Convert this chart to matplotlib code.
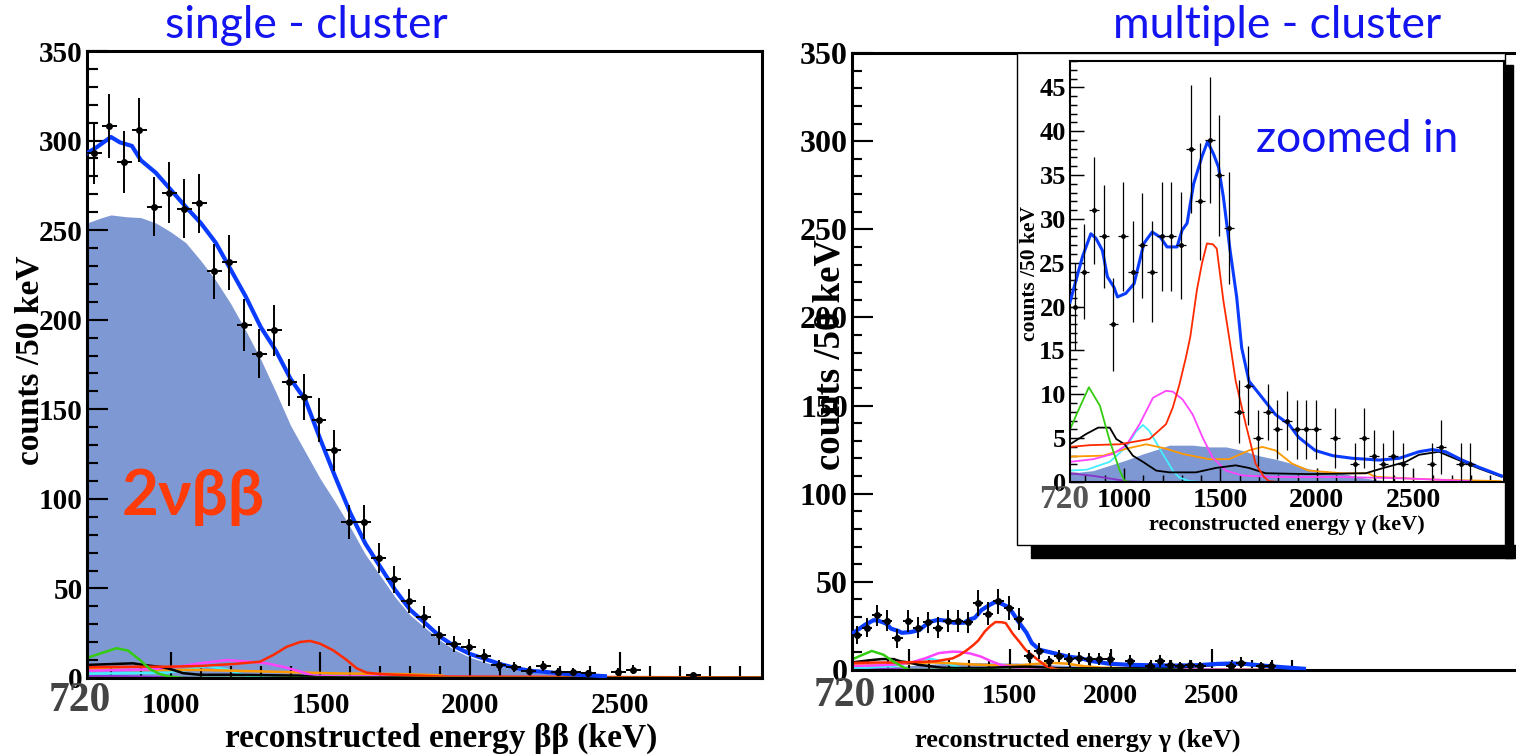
import numpy as np
import matplotlib
matplotlib.use('Agg')
import matplotlib.pyplot as plt
from matplotlib.patches import Rectangle
from matplotlib.ticker import MultipleLocator, FixedLocator

W, H = 1516, 756
plt.rcParams['font.family'] = ['Liberation Serif', 'DejaVu Serif']
plt.rcParams['font.weight'] = 'bold'

# ---- data: 50 keV bins, centres ----
bin_centres = list(range(745, 2946, 50))

single_counts = [293, 308, 288, 306, 263, 271, 262, 265, 227, 232, 197, 181, 194, 165, 157,
                 144, 127, 87, 87, 67, 55, 43, 34, 24, 19, 17.5, 12.3, 7, 6, 4,
                 6.7, 3.4, 3.4, 2.6, 0, 3.4, 4.7, 0, 0, 0, 1.5, 0, 0, 0, 0]
single_err = [17.5, 18, 17.3, 17.8, 16.5, 16.8, 16.4, 16.5, 15.3, 15.5, 14.3, 13.7, 14.2, 13.1, 12.8,
              12.3, 11.6, 9.6, 9.6, 8.5, 7.6, 6.8, 6.0, 5.3, 4.7, 4.5, 3.8, 3.0, 2.7, 2.3,
              2.9, 2.1, 2.1, 1.8, 0, 2.1, 2.5, 0, 0, 0, 1.4, 0, 0, 0, 0]

multi_counts = [20, 24, 31, 28, 18, 28, 24, 27, 24, 28, 28, 27, 38, 32, 39,
                35, 29, 8, 11, 5, 8, 6, 7, 6, 6, 6, 0, 5, 0, 2,
                5, 3, 2, 3, 2, 0, 0, 2, 4, 0, 2, 2, 0, 0, 0]
multi_err = [5.0, 5.4, 6.1, 5.9, 5.3, 6.2, 5.8, 6.0, 5.8, 6.2, 6.2, 6.1, 7.3, 6.7, 7.2,
             6.9, 6.4, 3.6, 4.5, 3.2, 3.2, 3.4, 3.4, 3.4, 3.4, 3.4, 0, 3.4, 0, 2.4,
             3.4, 2.9, 2.4, 2.9, 2.4, 0, 0, 2.4, 3.1, 0, 2.4, 2.4, 0, 0, 0]

# single-cluster fit components (energy knots, counts)
s_fill_e = [720, 770, 800, 850, 900, 950, 1000, 1050, 1100, 1150, 1200, 1250, 1300, 1350, 1400,
            1450, 1500, 1550, 1600, 1650, 1700, 1750, 1800, 1850, 1900, 1950, 2000, 2050, 2100,
            2150, 2200, 2250, 2300, 2350, 2400, 2450]
s_fill_v = [254, 257, 258.5, 257.5, 257, 254, 249, 243, 233, 222, 209, 194, 178, 160, 141,
            126, 111, 98, 84, 69, 57, 45, 35, 28, 21, 15.5, 11.5, 8.8, 6.5,
            4.6, 3.2, 2.6, 1.9, 1.2, 0.6, 0]
s_total_e = [720, 750, 800, 830, 870, 900, 950, 1000, 1050, 1100, 1150, 1200, 1250, 1300, 1350,
             1400, 1450, 1500, 1550, 1600, 1650, 1700, 1750, 1800, 1850, 1900, 1950, 2000, 2050,
             2100, 2150, 2200, 2250, 2300, 2350, 2400, 2450]
s_total_v = [293, 296, 302, 299, 297, 289, 282, 272.5, 263, 254, 243, 228, 213, 196, 183,
             167, 155, 133, 112, 92, 75, 62, 49, 38, 30.6, 23, 17.5, 13.4, 10.6,
             7.8, 5.6, 4, 3.4, 2.6, 1.9, 1.5, 1.0]
s_green_e = [720, 770, 819, 857, 897, 930, 963, 997, 1050, 2975]
s_green_v = [11.2, 14, 16.6, 15.3, 10, 5, 2.2, 0.7, 0, 0]
s_black_e = [720, 874, 908, 974, 1008, 1041, 1097, 1208, 1430, 1487, 1600, 2975]
s_black_v = [7.3, 8.2, 7.3, 6, 4.5, 2.7, 1.8, 1.8, 1.3, 0.5, 0.3, 0.3]
s_red_e = [720, 874, 986, 1097, 1208, 1298, 1342, 1387, 1432, 1465, 1498, 1542, 1588, 1621,
           1654, 1699, 1765, 1900, 2975]
s_red_v = [6, 6.3, 6.3, 6.7, 7.8, 9.1, 12.8, 17.4, 20.1, 20.7, 19.2, 15.5, 10, 5.4,
           3.0, 2.2, 1.7, 0.8, 0.3]
s_magenta_e = [720, 930, 1041, 1097, 1187, 1263, 1319, 1374, 1432, 1475, 1542, 2975]
s_magenta_v = [4.1, 4.8, 6.7, 8.2, 10, 9.1, 8.2, 6.3, 3.6, 1.3, 0.9, 0.2]
s_cyan_e = [720, 986, 1052, 1119, 1187, 1230, 1274, 1320]
s_cyan_v = [2.4, 3.0, 4.5, 6.7, 4.8, 2.2, 0.7, 0]
s_orange_e = [720, 874, 1097, 1320, 1542, 1765, 1900, 1950]
s_orange_v = [5.0, 4.5, 4.5, 3.6, 2.6, 2.2, 1.5, 0]
s_purple_e = [720, 850, 1000, 1100]
s_purple_v = [1.2, 0.9, 0.3, 0]

# multiple-cluster fit components
m_fill_e = [720, 840, 926, 1012, 1098, 1184, 1235, 1356, 1442, 1528, 1613, 1699, 1785, 1871,
            1957, 2129, 2215, 2301, 2387, 2450]
m_fill_v = [1.0, 1.3, 1.9, 2.5, 3.2, 3.8, 4.2, 4.2, 4.0, 4.0, 3.6, 3.0, 2.6, 2.1,
            1.5, 1.0, 0.57, 0.26, 0.1, 0]
m_total_e = [720, 751, 785, 828, 854, 888, 914, 948, 966, 1009, 1052, 1103, 1146, 1189, 1223,
             1275, 1301, 1327, 1361, 1404, 1433, 1464, 1490, 1515, 1550, 1584, 1610, 1648, 1717,
             1785, 1854, 1905, 1991, 2082, 2185, 2323, 2426, 2529, 2598, 2667, 2753, 2838, 2957]
m_total_v = [20.5, 23, 25.7, 28.3, 27.8, 26.4, 23.4, 22.2, 21.1, 21.5, 22.6, 27.2, 28.5, 27.9, 26.8,
             26.8, 28.7, 29.5, 34, 37.1, 38.8, 37.4, 35.9, 32.5, 26.4, 21.1, 15.3, 11.5, 9.6,
             7.7, 6.6, 5.1, 3.6, 3.0, 2.7, 2.5, 2.7, 3.45, 3.7, 3.45, 2.5, 1.7, 0.7]
m_green_e = [720, 770, 818, 875, 926, 978, 1003, 1050, 2900]
m_green_v = [6.0, 8.5, 10.8, 8.7, 4.7, 1.3, 0.1, 0, 0]
m_black_e = [720, 806, 866, 926, 960, 1003, 1046, 1098, 1167, 1235, 1373, 1476, 1579, 1648,
             1734, 1957, 2254, 2339, 2461, 2529, 2632, 2735, 2838, 2957]
m_black_v = [4.3, 5.5, 6.2, 6.2, 4.9, 4.3, 3.0, 2.3, 1.3, 1.1, 1.1, 1.6, 1.9, 1.6,
             1.0, 0.9, 1.0, 1.56, 2.3, 3.1, 3.45, 2.5, 1.56, 0.6]
m_red_e = [720, 823, 978, 1132, 1218, 1253, 1287, 1321, 1344, 1378, 1404, 1430, 1461, 1481,
           1515, 1550, 1579, 1631, 1682, 1725, 1751, 1800]
m_red_v = [4.0, 4.2, 4.3, 4.9, 6.6, 8.5, 11.1, 14.2, 16.6, 21.9, 24.9, 27.2, 27.1, 26.6,
           20.7, 15.8, 11.5, 6.6, 2.1, 0.6, 0.1, 0]
m_magenta_e = [720, 840, 943, 1012, 1081, 1150, 1218, 1253, 1304, 1356, 1407, 1459, 1528, 1613,
               1785, 2129, 2473, 2800]
m_magenta_v = [2.3, 2.6, 3.2, 4.2, 6.6, 9.6, 10.4, 10.3, 9.4, 7.7, 5.1, 2.8, 1.3, 0.75,
               0.57, 0.57, 0.4, 0.1]
m_cyan_e = [720, 806, 926, 1012, 1064, 1098, 1132, 1201, 1253, 1287, 1339, 1400]
m_cyan_v = [1.3, 1.4, 2.3, 4.0, 5.8, 6.5, 5.8, 3.2, 1.3, 0.5, 0.1, 0]
m_orange_e = [720, 892, 1012, 1115, 1218, 1304, 1442, 1545, 1648, 1717, 1785, 1871, 1957, 2129,
              2266, 2301, 2473, 2644, 2954]
m_orange_v = [2.9, 3.0, 3.8, 4.3, 3.8, 3.2, 2.6, 2.6, 3.6, 4.0, 3.6, 2.1, 1.3, 1.0,
              1.0, 0.6, 0.4, 0.26, 0.1]
m_purple_e = [720, 840, 926, 1012, 1100]
m_purple_v = [1.0, 0.7, 0.4, 0.1, 0]

x_major = [1000, 1500, 2000, 2500]
x_minor = list(range(800, 2901, 100))

FILL = '#7d98d3'
BLUE = '#0a3cff'
TITLE = '#1414f0'
COLS = {'green': '#33cc11', 'black': 'black', 'red': '#ff2a00', 'magenta': '#ff44ff',
        'cyan': '#44eeff', 'orange': '#ff9900', 'purple': '#8833cc'}


def px_axes(fig, x0, y0, x1, y1, **kw):
    return fig.add_axes([x0 / W, 1 - y1 / H, (x1 - x0) / W, (y1 - y0) / H], **kw)


def style(ax, xmax, ymax, ymaj, ymin_, spine_lw, maj_len, min_len, fs):
    ax.set_xlim(720, xmax)
    ax.set_ylim(0, ymax)
    ax.xaxis.set_major_locator(FixedLocator(x_major))
    ax.xaxis.set_minor_locator(FixedLocator(x_minor))
    ax.set_xticklabels([str(v) for v in x_major])
    ax.yaxis.set_major_locator(MultipleLocator(ymaj))
    ax.yaxis.set_minor_locator(MultipleLocator(ymin_))
    ax.tick_params(which='both', direction='in', top=False, right=False,
                   width=spine_lw * 0.7, labelsize=fs, pad=3)
    ax.tick_params(which='major', length=maj_len)
    ax.tick_params(which='minor', length=min_len)
    for s in ax.spines.values():
        s.set_linewidth(spine_lw)


def draw_fit(ax, comps, fill, total, lw_c, lw_t):
    ax.fill_between(fill[0], fill[1], color=FILL, lw=0, zorder=1)
    for name, (e, v) in comps.items():
        ax.plot(e, v, color=COLS[name], lw=lw_c, zorder=2)
    ax.plot(total[0], total[1], color=BLUE, lw=lw_t, zorder=3)


def draw_points(ax, counts, err, ms, lw):
    x = np.array(bin_centres)
    c = np.array(counts, dtype=float)
    e = np.array(err, dtype=float)
    m = c > 0
    ax.errorbar(x[m], c[m], xerr=25, yerr=e[m], fmt='o', color='k', ms=ms,
                elinewidth=lw, capsize=0, zorder=5)


def put(x, y, s, z=None, **kw):
    t = fig.text(x / W, 1 - y / H, s, ha='center', va='center', **kw)
    if z is not None:
        t.set_zorder(z)
    return t


fig = plt.figure(figsize=(W / 100, H / 100), dpi=100)

# ---------------- left: single cluster ----------------
axL = px_axes(fig, 87, 51, 762, 678)
style(axL, 2975, 350, 50, 10, 2.2, 15, 8, 21)
axL.tick_params(axis='x', which='major', length=19, pad=10)
axL.tick_params(axis='x', which='minor', length=9)
s_comps = {'purple': (s_purple_e, s_purple_v), 'cyan': (s_cyan_e, s_cyan_v),
           'orange': (s_orange_e, s_orange_v), 'magenta': (s_magenta_e, s_magenta_v),
           'black': (s_black_e, s_black_v), 'red': (s_red_e, s_red_v),
           'green': (s_green_e, s_green_v)}
draw_fit(axL, s_comps, (s_fill_e, s_fill_v), (s_total_e, s_total_v), 1.8, 3.0)
draw_points(axL, single_counts, single_err, 4, 1.4)
put(193, 497, '2νββ', color='#ff3b0a', fontsize=46, family=['Lato', 'Noto Sans'], weight='bold')
put(80, 701, '720', color='#444444', fontsize=30)
put(30, 360, 'counts /50 keV', rotation=90, fontsize=24)
put(441, 738, 'reconstructed energy ββ (keV)', fontsize=24)
fig.text(306 / W, 1 - 38 / H, 'single - cluster', color=TITLE, fontsize=32,
         family=['Lato', 'Noto Sans'], weight='normal', ha='center', va='baseline')

# ---------------- right: multiple cluster ----------------
axR = px_axes(fig, 852, 53, 1516, 670)
style(axR, 4007, 350, 50, 10, 2.2, 15, 7, 23)
axR.tick_params(axis='x', which='major', labelsize=20, pad=10)
axR.spines['right'].set_visible(False)
m_comps = {'purple': (m_purple_e, m_purple_v), 'cyan': (m_cyan_e, m_cyan_v),
           'orange': (m_orange_e, m_orange_v), 'magenta': (m_magenta_e, m_magenta_v),
           'black': (m_black_e, m_black_v), 'red': (m_red_e, m_red_v),
           'green': (m_green_e, m_green_v)}
draw_fit(axR, m_comps, (m_fill_e, m_fill_v), (m_total_e, m_total_v), 1.8, 3.0)
draw_points(axR, multi_counts, multi_err, 4, 1.4)
put(845, 696, '720', color='#444444', fontsize=30)
put(830, 355, 'counts /50 keV', rotation=90, fontsize=26.5)
put(1078, 740, 'reconstructed energy γ (keV)', fontsize=19)
fig.text(1277 / W, 1 - 38 / H, 'multiple - cluster', color=TITLE, fontsize=32,
         family=['Lato', 'Noto Sans'], weight='normal', ha='center', va='baseline')

# ---------------- inset (zoomed in) ----------------
def fig_rect(x0, y0, x1, y1, **kw):
    r = Rectangle((x0 / W, 1 - y1 / H), (x1 - x0) / W, (y1 - y0) / H,
                  transform=fig.transFigure, **kw)
    fig.patches.append(r)

fig_rect(1031, 545, 1516, 558, color='black', zorder=3)
fig_rect(1505, 65, 1513, 558, color='black', zorder=3)
fig_rect(1017, 53, 1505, 545, facecolor='white', edgecolor='black', lw=1.0, zorder=3)

axI = px_axes(fig, 1070, 61, 1504, 482)
axI.set_zorder(4)
style(axI, 2970, 48, 5, 1, 1.5, 10, 5, 19)
axI.tick_params(axis='x', pad=4, labelsize=20)
draw_fit(axI, m_comps, (m_fill_e, m_fill_v), (m_total_e, m_total_v), 1.3, 2.2)
draw_points(axI, multi_counts, multi_err, 2.5, 0.9)
put(1064, 500, '720', z=5, color='#555555', fontsize=24)
put(1030, 273, 'counts /50 keV', z=5, rotation=90, fontsize=15.5)
put(1287, 525, 'reconstructed energy γ (keV)', z=5, fontsize=16)
t = fig.text(1357 / W, 1 - 152 / H, 'zoomed in', color=TITLE, fontsize=32,
             family=['Lato', 'Noto Sans'], weight='normal', ha='center', va='baseline')
t.set_zorder(6)

fig.savefig('out.png', dpi=100)
